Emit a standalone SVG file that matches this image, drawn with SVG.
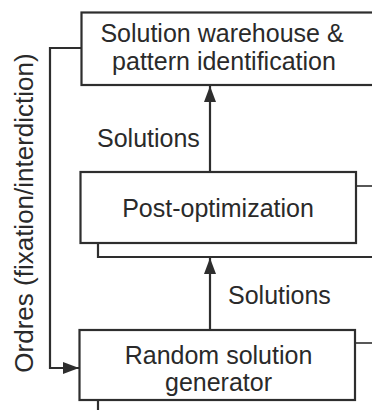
<svg xmlns="http://www.w3.org/2000/svg" width="372" height="410" viewBox="0 0 372 410">
  <style>
    .box { fill: #ffffff; stroke: #2e2e2e; stroke-width: 2.2; }
    .line { fill: none; stroke: #2e2e2e; stroke-width: 2.2; }
    .thin { fill: none; stroke: #2e2e2e; stroke-width: 1.6; }
    text { font-family: "Liberation Sans", Arial, sans-serif; font-size: 25px; fill: #2a2a2a; }
    .mid { text-anchor: middle; }
  </style>
  <defs>
    <marker id="arrow" viewBox="0 0 16 12" refX="16" refY="6" markerWidth="16" markerHeight="12" markerUnits="userSpaceOnUse" orient="auto">
      <path d="M0,0 L16,6 L0,12 Z" fill="#2e2e2e"/>
    </marker>
  </defs>

  <g id="connectors">
    <!-- orders loop back from the warehouse to the generator -->
    <polyline class="line" points="81,48 50,48 50,368 79,368" marker-end="url(#arrow)"/>
    <!-- solutions flowing upward -->
    <line class="line" x1="210" y1="172" x2="210" y2="86" marker-end="url(#arrow)"/>
    <line class="line" x1="210" y1="330" x2="210" y2="258" marker-end="url(#arrow)"/>
    <!-- side links leaving to the right -->
    <line class="thin" x1="356" y1="186" x2="372" y2="186"/>
    <line class="thin" x1="355" y1="343" x2="372" y2="343"/>
    <polyline class="line" points="98,243 98,257 372,257"/>
    <line class="line" x1="98" y1="400" x2="98" y2="410"/>
  </g>

  <g id="warehouse">
    <rect class="box" x="81.5" y="12.5" width="300" height="72.5"/>
    <text class="mid" x="222" y="42">Solution warehouse &amp;</text>
    <text class="mid" x="224" y="70">pattern identification</text>
  </g>

  <g id="post-optimization">
    <rect class="box" x="80.5" y="172" width="275.5" height="71"/>
    <text class="mid" x="218" y="217">Post-optimization</text>
  </g>

  <g id="generator">
    <rect class="box" x="79.5" y="330" width="275.5" height="70"/>
    <text class="mid" x="218.5" y="364">Random solution</text>
    <text class="mid" x="218.5" y="391">generator</text>
  </g>

  <g id="labels">
    <text x="97" y="147">Solutions</text>
    <text x="228" y="304">Solutions</text>
    <text class="mid" style="font-size:26px" transform="translate(33,213) rotate(-90)">Ordres (fixation/interdiction)</text>
  </g>
</svg>
